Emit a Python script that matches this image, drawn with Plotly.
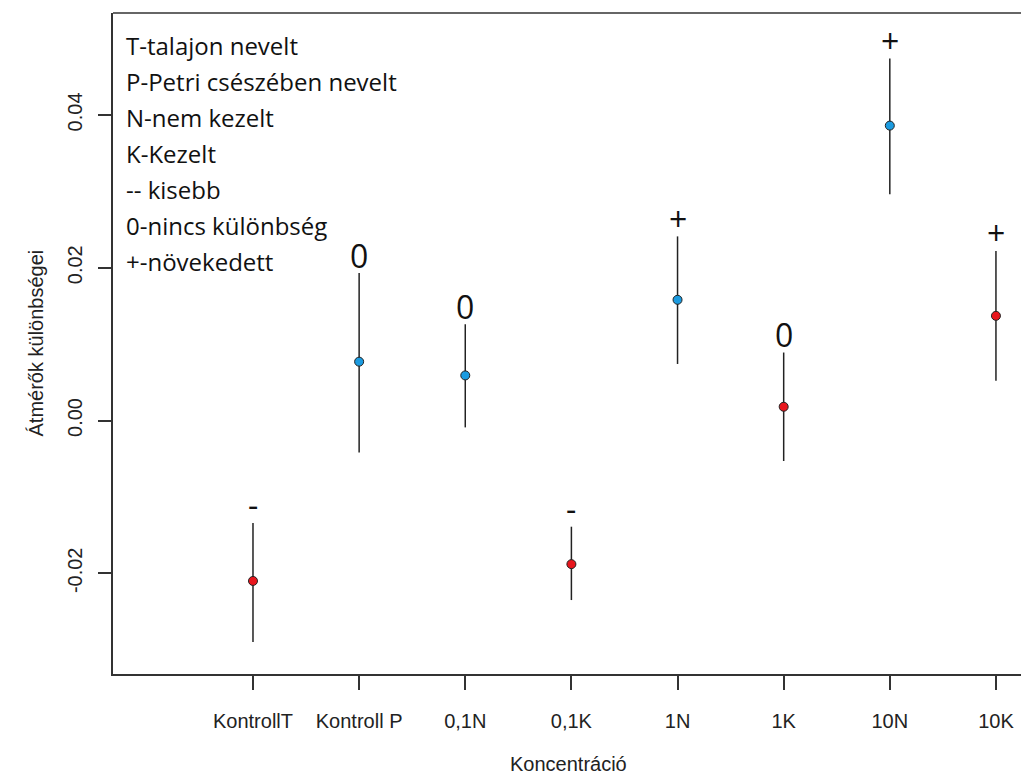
import plotly.graph_objects as go

categories = ["KontrollT", "Kontroll P", "0,1N", "0,1K", "1N", "1K", "10N", "10K"]
means = [-0.0210, 0.0077, 0.0059, -0.0188, 0.0158, 0.0018, 0.0386, 0.0137]
upper = [-0.0134, 0.0193, 0.0126, -0.0139, 0.0241, 0.0089, 0.0474, 0.0222]
lower = [-0.0290, -0.0042, -0.0009, -0.0235, 0.0074, -0.0053, 0.0296, 0.0052]
colors = ["#e8161d", "#1b9be0", "#1b9be0", "#e8161d", "#1b9be0", "#e8161d", "#1b9be0", "#e8161d"]
sig_labels = ["-", "0", "0", "-", "+", "0", "+", "+"]
legend_lines = ["T-talajon nevelt", "P-Petri csészében nevelt", "N-nem kezelt",
                "K-Kezelt", "-- kisebb", "0-nincs különbség", "+-növekedett"]
y_ticks = [-0.02, 0.0, 0.02, 0.04]
y_tick_text = ["-0.02", "0.00", "0.02", "0.04"]

err_plus = [u - m for u, m in zip(upper, means)]
err_minus = [m - l for m, l in zip(means, lower)]

fig = go.Figure()
fig.add_trace(go.Scatter(
    x=categories, y=means, mode="markers",
    marker=dict(size=9, color=colors, line=dict(color="#222222", width=1)),
    error_y=dict(type="data", symmetric=False, array=err_plus, arrayminus=err_minus,
                 color="#222222", thickness=1.5, width=0),
    showlegend=False, hoverinfo="x+y",
))

for c, u, s in zip(categories, upper, sig_labels):
    fig.add_annotation(x=c, y=u, text=s, showarrow=False, xref="x", yref="y",
                       yanchor="middle", yshift=18,
                       font=dict(family="Open Sans", size=32, color="#111111"))

for i, line in enumerate(legend_lines):
    fig.add_annotation(x=0, y=1, xref="paper", yref="paper", text=line, showarrow=False,
                       xanchor="left", yanchor="middle", xshift=11, yshift=-(32 + 36 * i),
                       font=dict(family="Open Sans", size=24, color="#111111"))

font_axis = dict(family="Liberation Sans, Arial", size=20, color="#222222")
fig.add_annotation(x=0.502, y=0, xref="paper", yref="paper", text="Koncentráció",
                   showarrow=False, xanchor="center", yanchor="bottom", yshift=-103,
                   font=font_axis)
fig.add_annotation(x=0, y=0.5, xref="paper", yref="paper", text="Átmérők különbségei",
                   showarrow=False, xanchor="center", yanchor="middle", xshift=-78,
                   textangle=-90, font=font_axis)

# top border of the plot box (right border lies outside the picture)
fig.add_shape(type="line", xref="paper", yref="paper", x0=0, x1=1, y0=1, y1=1,
              line=dict(color="#333333", width=1.5))

fig.update_xaxes(type="category", range=[-1.319, 7.236], showline=True, linecolor="#333333",
                 linewidth=1.5, ticks="outside", ticklen=14, tickcolor="#333333", tickwidth=1.5,
                 showgrid=False, zeroline=False, tickfont=font_axis, ticklabelstandoff=14)
fig.update_yaxes(range=[-0.03318, 0.05334], showline=True, linecolor="#333333", linewidth=1.5,
                 ticks="outside", ticklen=13, tickcolor="#333333", tickwidth=1.5,
                 tickvals=y_ticks, ticktext=y_tick_text, tickangle=-90,
                 showgrid=False, zeroline=False, tickfont=font_axis, ticklabelstandoff=8)

fig.update_layout(width=1021, height=778, margin=dict(l=113, r=0, t=13, b=104),
                  plot_bgcolor="white", paper_bgcolor="white")

fig.write_html("out.html")
